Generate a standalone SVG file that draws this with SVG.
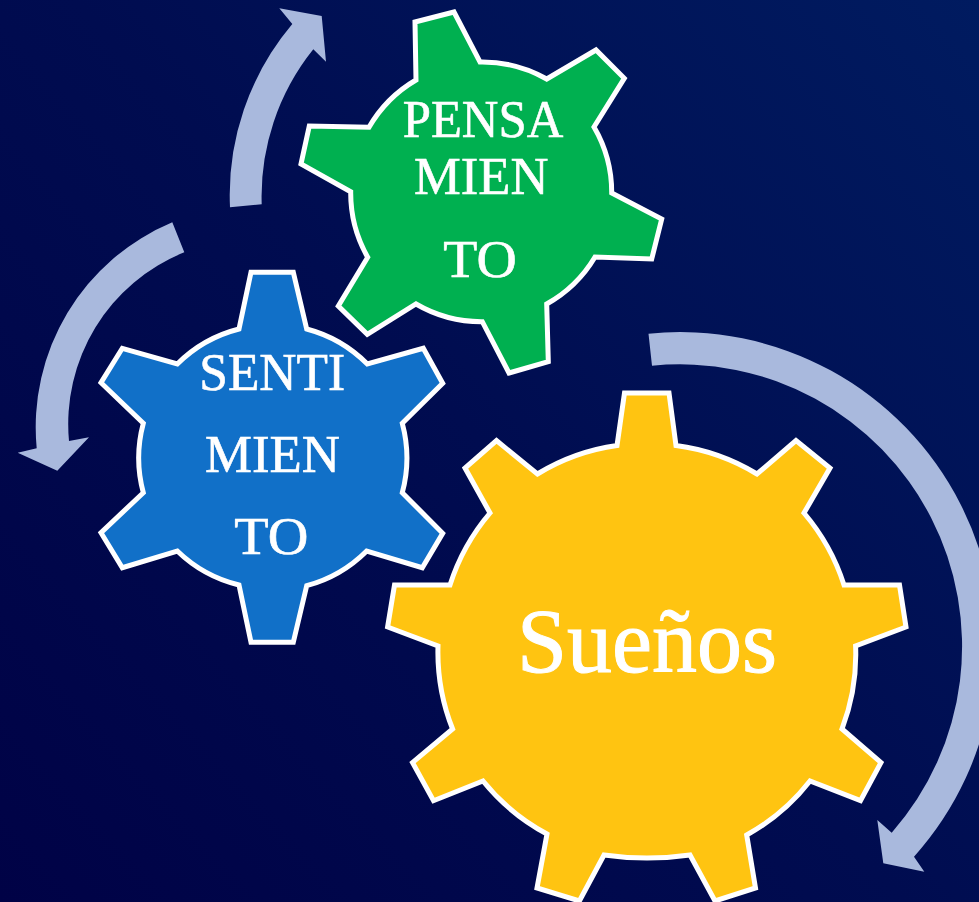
<svg xmlns="http://www.w3.org/2000/svg" width="979" height="902" viewBox="0 0 979 902">
  <style>
    .gear { stroke: #ffffff; stroke-width: 5; stroke-linejoin: miter; stroke-miterlimit: 6; }
    .arrow { fill: #a9b9dd; stroke: none; }
    text { font-family: "Liberation Serif", "Times New Roman", serif; fill: #ffffff; stroke: #ffffff; stroke-width: 0.6; text-anchor: middle; font-size: 52px; }
    .big { font-size: 90px; stroke-width: 1; }
  </style>
  <defs>
    <linearGradient id="bg" gradientUnits="userSpaceOnUse" x1="0" y1="902" x2="979" y2="0">
      <stop offset="0" stop-color="#000246"/>
      <stop offset="0.5" stop-color="#000c50"/>
      <stop offset="1" stop-color="#001b60"/>
    </linearGradient>
  </defs>
  <rect width="979" height="902" fill="url(#bg)"/>
  <g id="connectors">
    <path class="arrow" d="M230,207.3 A265,265 0 0 1 292.3,24 L279.3,8.3 L321.7,16 L326,61.7 L313.3,49.3 A235,235 0 0 0 261.7,204.3 Z"/>
    <path class="arrow" d="M172.3,222.3 A222,222 0 0 0 36.7,448.3 L17.7,452.7 L57.3,470.7 L89,437.3 L69,441 A185,185 0 0 1 184.3,252.3 Z"/>
    <path class="arrow" d="M648.5,333.7 A314.4,314.4 0 0 1 914,856.7 L924.3,871.7 L883.3,863.3 L877.3,820 L891.7,832.7 A282,282 0 0 0 652,365.7 Z"/>
  </g>
  <g id="node-pensamiento">
    <path class="gear" fill="#00b050" d="M415,22 L454,12 L480,62 A130,130 0 0 1 546.7,79 L596,50 L624.3,78.3 L594,127 A130,130 0 0 1 611.7,193 L661.7,219 L651.7,259 L595,257 A130,130 0 0 1 546.7,304 L548.3,361.7 L509,373 L482.3,321.7 A130,130 0 0 1 416,304 L367.3,334.3 L338.3,306 L367.7,257.3 A130,130 0 0 1 350.7,191.7 L301,164 L309.3,126 L369,127.3 A130,130 0 0 1 416,80 Z"/>
    <text x="483" y="137.3" textLength="160.6" lengthAdjust="spacingAndGlyphs">PENSA</text>
    <text x="481.2" y="194.3" textLength="134.3" lengthAdjust="spacingAndGlyphs">MIEN</text>
    <text x="480" y="276.7" textLength="73.4" lengthAdjust="spacingAndGlyphs">TO</text>
  </g>
  <g id="node-sentimiento">
    <path class="gear" fill="#1170c8" d="M251,272.3 L293.3,272.3 L306.7,329 A134,134 0 0 1 367.3,364 L423.3,348.3 L442.7,383.3 L402.3,423.3 A134,134 0 0 1 402.3,492.7 L442.7,533.3 L422.3,567.7 L366.7,551 A134,134 0 0 1 306.7,585.7 L293.3,642.3 L251,642.3 L239,585 A134,134 0 0 1 177.3,551 L122.3,567.7 L101,532.7 L143.3,492.7 A134,134 0 0 1 143.3,423.3 L101,382.7 L122.3,348.3 L177.3,364 A134,134 0 0 1 239,329 Z"/>
    <text x="272.2" y="390.3" textLength="145.7" lengthAdjust="spacingAndGlyphs">SENTI</text>
    <text x="272.5" y="471.7" textLength="135" lengthAdjust="spacingAndGlyphs">MIEN</text>
    <text x="271.3" y="553.7" textLength="74" lengthAdjust="spacingAndGlyphs">TO</text>
  </g>
  <g id="node-suenos">
    <path class="gear" fill="#ffc411" d="M624.5,393 L669,393 L676,445.5 A208,208 0 0 1 757,474 L796,440.6 L830,468 L804,513 A208,208 0 0 1 844,585 L899.5,585 L906,627 L855.6,646 A208,208 0 0 1 842,729 L881,762.5 L860.5,800.7 L810,781 A208,208 0 0 1 746.7,835 L755.5,888 L715,901 L690,855 A300,300 0 0 1 604,855 L579.4,901 L537,888 L547,834 A208,208 0 0 1 483,781 L433.5,800.7 L412.5,762.5 L452.6,729 A208,208 0 0 1 438,646 L387.6,627 L394.5,585 L450,585 A208,208 0 0 1 490,513 L465,468 L496.5,440.6 L537.4,474 A208,208 0 0 1 617,445.5 Z"/>
    <text class="big" x="647" y="672" textLength="260" lengthAdjust="spacingAndGlyphs">Sueños</text>
  </g>
</svg>
